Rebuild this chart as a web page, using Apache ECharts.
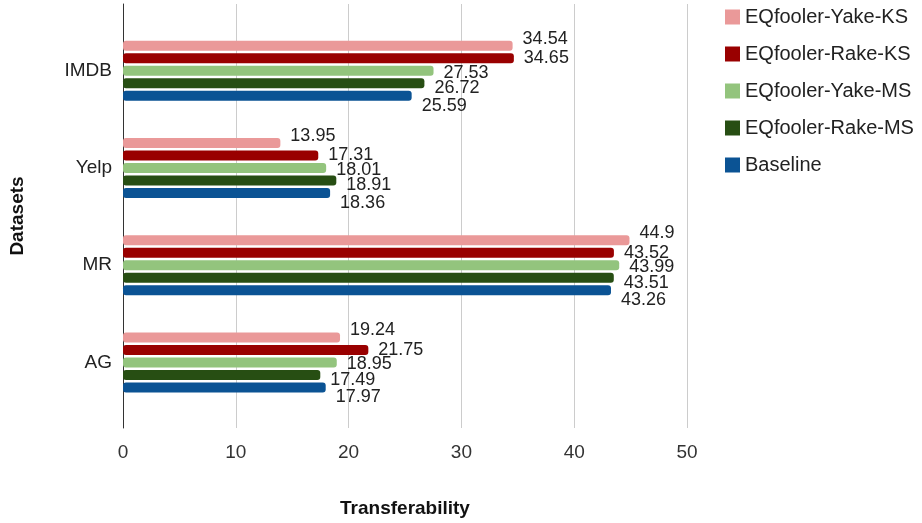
<!DOCTYPE html>
<html>
<head>
<meta charset="utf-8">
<script src="https://cdn.jsdelivr.net/npm/echarts@6/dist/echarts.min.js"></script>
<style>
  html, body { margin: 0; padding: 0; background: #fff; }
  #chart { width: 922px; height: 523px; }
</style>
</head>
<body>
<div id="chart"></div>
<script>
var datasets = ['IMDB', 'Yelp', 'MR', 'AG'];
var seriesNames = ['EQfooler-Yake-KS', 'EQfooler-Rake-KS', 'EQfooler-Yake-MS', 'EQfooler-Rake-MS', 'Baseline'];
var yakeKS = [34.54, 13.95, 44.9, 19.24];
var rakeKS = [34.65, 17.31, 43.52, 21.75];
var yakeMS = [27.53, 18.01, 43.99, 18.95];
var rakeMS = [26.72, 18.91, 43.51, 17.49];
var baseline = [25.59, 18.36, 43.26, 17.97];
var xTicks = [0, 10, 20, 30, 40, 50];

var seriesValues = [yakeKS, rakeKS, yakeMS, rakeMS, baseline];
var colors = ['#ea9999', '#990000', '#93c47d', '#274e13', '#0b5394'];
// vertical nudge of value labels so they don't pile up
var labelDy = [-7, 0, 2, 5, 10];

var sans = '"Liberation Sans", Arial, sans-serif';

var chart = echarts.init(document.getElementById('chart'));

var series = seriesValues.map(function (vals, i) {
  return {
    name: seriesNames[i],
    type: 'bar',
    xAxisIndex: 0,
    yAxisIndex: 0,
    data: vals,
    barWidth: 10,
    barGap: '25%',
    itemStyle: { color: colors[i], borderRadius: 3 },
    label: {
      show: true,
      position: 'right',
      distance: 10,
      offset: [0, labelDy[i]],
      color: '#222',
      fontSize: 18,
      fontFamily: sans
    }
  };
});

chart.setOption({
  animation: false,
  color: colors,
  legend: {
    orient: 'vertical',
    left: 720,
    top: 2,
    icon: 'rect',
    itemWidth: 15,
    itemHeight: 15,
    itemGap: 17,
    data: seriesNames,
    textStyle: { color: '#222', fontSize: 20, fontFamily: sans }
  },
  grid: [
    { left: 123, right: 235, top: 22, height: 389 },
    { left: 123, right: 235, top: 4, bottom: 95 }
  ],
  xAxis: [
    { type: 'value', gridIndex: 0, min: 0, max: 50, show: false },
    {
      type: 'value',
      gridIndex: 1,
      min: xTicks[0],
      max: xTicks[xTicks.length - 1],
      interval: 10,
      axisLine: { show: false },
      axisTick: { show: false },
      splitLine: { show: true, lineStyle: { color: '#cccccc', width: 1 } },
      axisLabel: { color: '#333', fontSize: 19, fontFamily: sans, margin: 15 },
      name: 'Transferability',
      nameLocation: 'middle',
      nameGap: 71,
      nameTextStyle: { color: '#111', fontSize: 19, fontWeight: 'bold', fontFamily: sans }
    }
  ],
  yAxis: [
    {
      type: 'category',
      gridIndex: 0,
      inverse: true,
      data: datasets,
      axisLine: { show: false },
      axisTick: { show: false },
      axisLabel: { color: '#222', fontSize: 19, fontFamily: sans, margin: 11 }
    },
    {
      type: 'category',
      gridIndex: 1,
      data: [''],
      axisLine: { show: true, lineStyle: { color: '#333', width: 1 } },
      axisTick: { show: false },
      axisLabel: { show: false },
      name: 'Datasets',
      nameLocation: 'middle',
      nameGap: 96,
      nameRotate: 90,
      nameTextStyle: { color: '#111', fontSize: 19, fontWeight: 'bold', fontFamily: sans }
    }
  ],
  series: series
});
</script>
</body>
</html>
